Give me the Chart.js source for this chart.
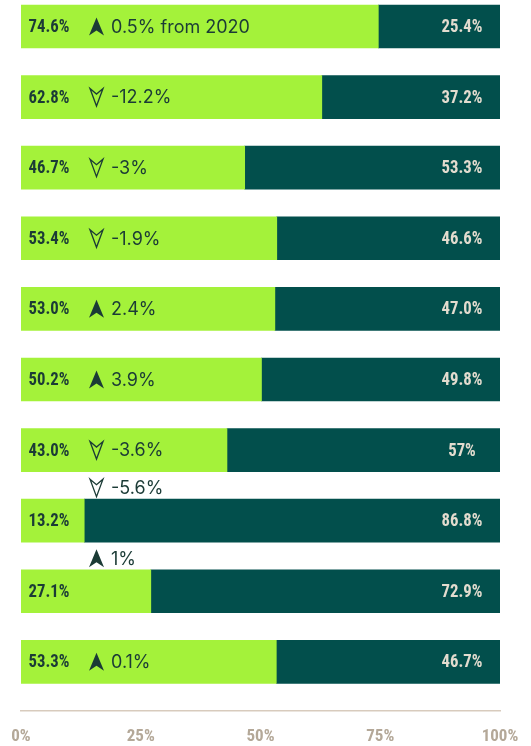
<!DOCTYPE html>
<html>
<head>
<meta charset="utf-8">
<script src="https://cdn.jsdelivr.net/npm/chart.js@4"></script>
<style>
  html, body { margin: 0; padding: 0; background: #fff; overflow: hidden; }
  canvas { display: block; }
</style>
</head>
<body>
<canvas id="shareChart" width="531" height="746"></canvas>
<script>
// rows top to bottom (no category names shown in the picture)
const rows = [0, 1, 2, 3, 4, 5, 6, 7, 8, 9];
const greenValues = [74.6, 62.8, 46.7, 53.4, 53.0, 50.2, 43.0, 13.2, 27.1, 53.3];
const darkValues = [25.4, 37.2, 53.3, 46.6, 47.0, 49.8, 57.0, 86.8, 72.9, 46.7];
const greenLabels = ['74.6%', '62.8%', '46.7%', '53.4%', '53.0%', '50.2%', '43.0%', '13.2%', '27.1%', '53.3%'];
const darkLabels = ['25.4%', '37.2%', '53.3%', '46.6%', '47.0%', '49.8%', '57%', '86.8%', '72.9%', '46.7%'];
const changeLabels = ['0.5% from 2020', '-12.2%', '-3%', '-1.9%', '2.4%', '3.9%', '-3.6%', '-5.6%', '1%', '0.1%'];
const changeUp = [true, false, false, false, true, true, false, false, true, true];
const changeAbove = [false, false, false, false, false, false, false, true, true, false];
const xTicks = [0, 25, 50, 75, 100];

const GREEN = '#a4f23a';
const TEAL = '#024f4c';
const INK = '#1b3b36';
const PALE = '#e3dccf';
const NARROW = "'Roboto Condensed', 'DejaVu Sans Condensed', sans-serif";
const SQUEEZE = 0.93;

function drawArrow(ctx, cx, cy, up) {
  ctx.save();
  ctx.beginPath();
  if (up) {
    ctx.moveTo(cx, cy - 9);
    ctx.lineTo(cx + 7.5, cy + 9);
    ctx.lineTo(cx, cy + 4);
    ctx.lineTo(cx - 7.5, cy + 9);
    ctx.closePath();
    ctx.fillStyle = INK;
    ctx.fill();
  } else {
    ctx.moveTo(cx - 6.5, cy - 8.5);
    ctx.lineTo(cx, cy - 3);
    ctx.lineTo(cx + 6.5, cy - 8.5);
    ctx.lineTo(cx, cy + 9);
    ctx.closePath();
    ctx.strokeStyle = INK;
    ctx.lineWidth = 1.3;
    ctx.stroke();
  }
  ctx.restore();
}

function squeezedText(ctx, text, x, y) {
  ctx.save();
  ctx.translate(x, y);
  ctx.scale(SQUEEZE, 1);
  ctx.fillText(text, 0, 0);
  ctx.restore();
}

const barLabels = {
  id: 'barLabels',
  afterDatasetsDraw(chart) {
    const ctx = chart.ctx;
    const greenMeta = chart.getDatasetMeta(0);
    const darkMeta = chart.getDatasetMeta(1);
    ctx.save();
    ctx.textBaseline = 'middle';
    rows.forEach((r, i) => {
      const g = greenMeta.data[i];
      const d = darkMeta.data[i];
      // values inside the two segments
      ctx.font = 'bold 18px ' + NARROW;
      ctx.textAlign = 'center';
      ctx.fillStyle = INK;
      squeezedText(ctx, greenLabels[i], g.base + 28, g.y + 1);
      ctx.fillStyle = PALE;
      squeezedText(ctx, darkLabels[i], d.x - 38, d.y + 1);

      // change vs last year, above the bar when the green part is too short
      const y = changeAbove[i] ? g.y - 33 : g.y;
      drawArrow(ctx, g.base + 75.5, y, changeUp[i]);
      ctx.font = '18px Inter, "Noto Sans", sans-serif';
      ctx.textAlign = 'left';
      ctx.fillStyle = INK;
      ctx.fillText(changeLabels[i], g.base + 90, y + 1);
    });
    ctx.restore();
  }
};

new Chart(document.getElementById('shareChart'), {
  type: 'bar',
  data: {
    datasets: [
      { label: 'Share', data: rows.map((r, i) => ({ x: greenValues[i], y: r })), backgroundColor: GREEN, borderWidth: 0, barThickness: 43 },
      { label: 'Rest', data: rows.map((r, i) => ({ x: darkValues[i], y: r })), backgroundColor: TEAL, borderWidth: 0, barThickness: 43 }
    ]
  },
  options: {
    indexAxis: 'y',
    responsive: false,
    animation: false,
    devicePixelRatio: 1,
    layout: { padding: { left: 21, right: 31, top: 0, bottom: 0 } },
    plugins: { legend: { display: false }, tooltip: { enabled: false } },
    scales: {
      x: {
        type: 'linear',
        position: 'bottom',
        stacked: true,
        min: 0,
        max: 100,
        afterBuildTicks: (scale) => { scale.ticks = xTicks.map(v => ({ value: v })); },
        // keep the tick labels from pushing the plot area around
        afterFit: (scale) => {
          scale.paddingLeft = 0;
          scale.paddingRight = 0;
          scale.height = 35;
        },
        grid: { display: false, drawTicks: false },
        border: { display: true, color: '#d8cbbd', width: 1.5 },
        ticks: {
          padding: 16,
          color: '#b4a898',
          font: { family: NARROW, size: 17, weight: 'bold', lineHeight: 1.2 },
          callback: (v) => v + '%',
          maxRotation: 0
        }
      },
      y: {
        type: 'linear',
        stacked: true,
        reverse: true,
        offset: false,
        min: -0.375,
        max: 9.696,
        display: false
      }
    }
  },
  plugins: [barLabels]
});
</script>
</body>
</html>
